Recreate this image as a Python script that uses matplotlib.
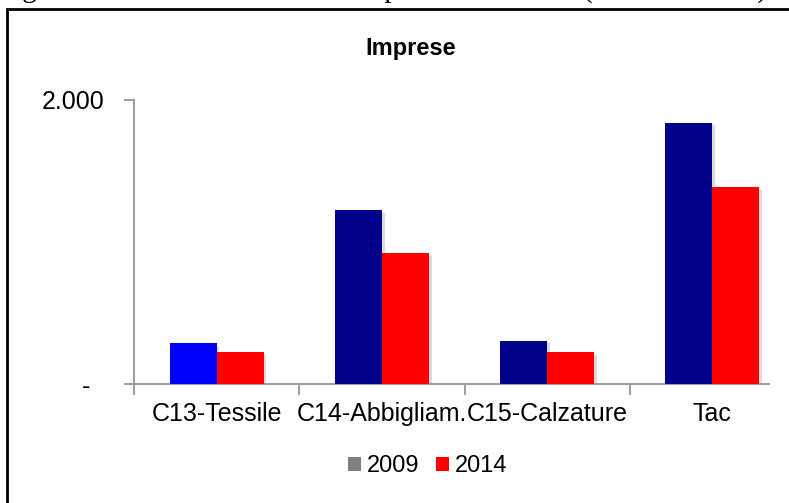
import matplotlib
matplotlib.use("Agg")
import matplotlib.pyplot as plt
from matplotlib.patches import Patch, Rectangle
import matplotlib.patheffects as pe
import numpy as np

categories = ["C13-Tessile", "C14-Abbigliam.", "C15-Calzature", "Tac"]
values_2009 = [287, 1227, 305, 1840]
values_2014 = [223, 920, 225, 1389]
series_labels = ["2009", "2014"]
ytick_values = [0, 2000]
ytick_labels = ["-  ", "2.000"]
title = "Imprese"
caption = "Figura 4.1 \u2013 Andamento delle Imprese del Tessile (valori assoluti)."

plt.rcParams["font.family"] = ["Liberation Sans", "DejaVu Sans"]

W, H = 789, 503
fig = plt.figure(figsize=(W / 100, H / 100), dpi=100)

# caption line of the surrounding document, cut by the top edge
fig.text(-2 / W, 1 + 3 / H, caption, family=["Liberation Serif", "DejaVu Serif"],
         fontsize=21, ha="left", va="baseline")

# frame around the chart
fig.patches.append(Rectangle((7 / W, -0.2), 1.2, 1 - 9 / H + 0.2,
                             transform=fig.transFigure, fill=False,
                             edgecolor="black", linewidth=2, zorder=5))

ax = fig.add_axes([134 / W, 119 / H, 661 / W, 284 / H])

x = np.arange(len(categories))
bw = 0.285
c2009 = ["#0000ff", "#00008b", "#00008b", "#00008b"]
shadow = [pe.SimplePatchShadow(offset=(2, -2), shadow_rgbFace="#999999", alpha=0.35),
          pe.Normal()]
b1 = ax.bar(x - bw / 2, values_2009, bw, color=c2009, zorder=3)
b2 = ax.bar(x + bw / 2, values_2014, bw, color="#ff0000", zorder=3)
for b in list(b1) + list(b2):
    b.set_path_effects(shadow)

ax.set_xlim(-0.5, 3.5)
ax.set_ylim(0, 2000)

for s in ["top", "right"]:
    ax.spines[s].set_visible(False)
for s in ["left", "bottom"]:
    ax.spines[s].set_color("#a0a0a0")
    ax.spines[s].set_linewidth(1.5)
ax.spines["bottom"].set_bounds(-0.5, 3.343)

ax.set_yticks(ytick_values)
ax.set_yticklabels(ytick_labels, fontsize=18)
ax.tick_params(axis="y", length=7, width=1.5, color="#a0a0a0", pad=14)

ax.set_xticks(x)
ax.set_xticklabels(categories, fontsize=18)
ax.set_xticks(np.arange(-0.5, 3.0, 1.0), minor=True)
ax.tick_params(axis="x", which="major", length=0, pad=13)
ax.tick_params(axis="x", which="minor", length=8, width=1.5, color="#a0a0a0")

fig.text(411 / W, 1 - 48 / H, title, fontsize=17, fontweight="bold",
         ha="center", va="center")

handles = [Patch(facecolor="#808080"), Patch(facecolor="#ff0000")]
fig.legend(handles, series_labels, loc="center", bbox_to_anchor=(428 / W, 1 - 466 / H),
           ncol=2, frameon=False, fontsize=17, handlelength=0.55, handleheight=0.55,
           handletextpad=0.25, columnspacing=0.7)

fig.savefig("out.png", dpi=100)
